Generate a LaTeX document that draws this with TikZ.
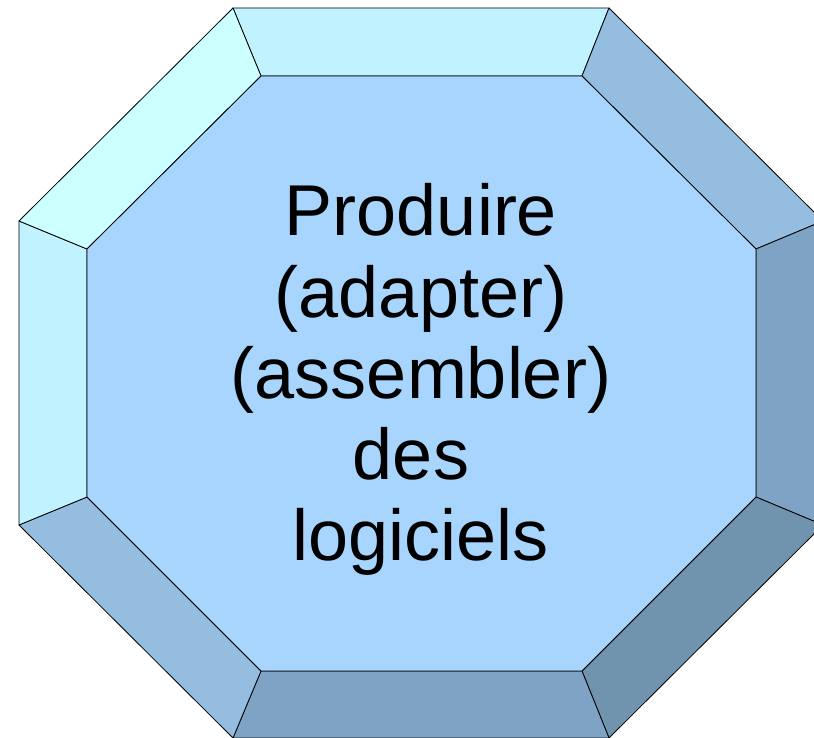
\documentclass[tikz,border=0pt]{standalone}
\usepackage{fontspec}
\setmainfont{Liberation Sans}
\definecolor{cTop}{HTML}{C0F2FF}
\definecolor{cTopL}{HTML}{CCFFFF}
\definecolor{cLeft}{HTML}{C0F2FF}
\definecolor{cMid}{HTML}{A8D5FD}
\definecolor{cTopR}{HTML}{94BDE0}
\definecolor{cRight}{HTML}{7FA3C5}
\definecolor{cBotR}{HTML}{7093AE}
\definecolor{cBot}{HTML}{7FA3C5}
\definecolor{cBotL}{HTML}{94BDE0}
\tikzset{
  facet/.style={draw=black, line width=0.8pt, line join=round},
  label/.style={anchor=base, inner sep=0pt, font=\fontsize{72}{81}\selectfont, text=black}
}
\begin{document}
\begin{tikzpicture}[x=1pt,y=-1pt]
\useasboundingbox (0,0) rectangle (814,738);
\clip (0,0) rectangle (814,738);
% outer vertices
\coordinate (O1) at (233,8);
\coordinate (O2) at (609,8);
\coordinate (O3) at (823,221);
\coordinate (O4) at (823,525);
\coordinate (O5) at (609,738);
\coordinate (O6) at (233,738);
\coordinate (O7) at (19,525);
\coordinate (O8) at (19,221);
% inner vertices
\coordinate (I1) at (261,76);
\coordinate (I2) at (582,76);
\coordinate (I3) at (756,249);
\coordinate (I4) at (756,497);
\coordinate (I5) at (582,671);
\coordinate (I6) at (261,671);
\coordinate (I7) at (87,497);
\coordinate (I8) at (87,249);
% bevel facets
\filldraw[facet, fill=cTop]   (O1) -- (O2) -- (I2) -- (I1) -- cycle;
\filldraw[facet, fill=cTopR]  (O2) -- (O3) -- (I3) -- (I2) -- cycle;
\filldraw[facet, fill=cRight] (O3) -- (O4) -- (I4) -- (I3) -- cycle;
\filldraw[facet, fill=cBotR]  (O4) -- (O5) -- (I5) -- (I4) -- cycle;
\filldraw[facet, fill=cBot]   (O5) -- (O6) -- (I6) -- (I5) -- cycle;
\filldraw[facet, fill=cBotL]  (O6) -- (O7) -- (I7) -- (I6) -- cycle;
\filldraw[facet, fill=cLeft]  (O7) -- (O8) -- (I8) -- (I7) -- cycle;
\filldraw[facet, fill=cTopL]  (O8) -- (O1) -- (I1) -- (I8) -- cycle;
% central face
\filldraw[facet, fill=cMid] (I1) -- (I2) -- (I3) -- (I4) -- (I5) -- (I6) -- (I7) -- (I8) -- cycle;
% text
\node[label] (t1) at (421,236) {Produire};
\node[label] (t2) at (421,317) {(adapter)};
\node[label] (t3) at (421,398) {(assembler)};
\node[label] (t4) at (421,479) {des\hspace*{0.278em}};
\node[label] (t5) at (421,560) {logiciels};
\end{tikzpicture}
\end{document}
